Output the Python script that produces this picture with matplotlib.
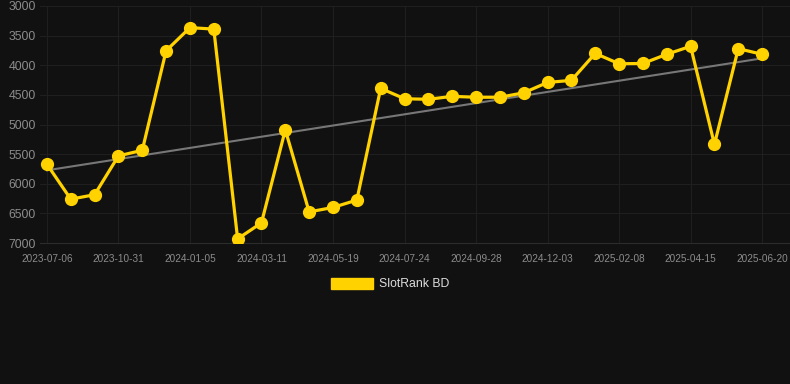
import numpy as np
import matplotlib
matplotlib.use('Agg')
import matplotlib.pyplot as plt
from matplotlib.patches import Patch

# rank values, one per observation (lower rank number is better, axis inverted)
rank = [5670, 6260, 6185, 5530, 5435, 3755, 3365, 3390, 6930, 6660,
        5090, 6475, 6400, 6275, 4390, 4565, 4575, 4525, 4540, 4540,
        4465, 4290, 4255, 3800, 3975, 3970, 3815, 3680, 5335, 3720,
        3815]
tick_labels = ['2023-07-06', '2023-10-31', '2024-01-05', '2024-03-11',
               '2024-05-19', '2024-07-24', '2024-09-28', '2024-12-03',
               '2025-02-08', '2025-04-15', '2025-06-20']
y_ticks = [3000, 3500, 4000, 4500, 5000, 5500, 6000, 6500, 7000]
series_name = 'SlotRank BD'

bg = '#111111'
yellow = '#ffd200'
W, H = 790, 384

plt.rcParams['font.family'] = ['Liberation Sans', 'DejaVu Sans']
fig = plt.figure(figsize=(W/100, H/100), dpi=100, facecolor=bg)
ax = fig.add_axes([40/W, (H-243)/H, 750/W, 237/H], facecolor=bg)

x = np.arange(len(rank))
# trend line (least squares)
k, b = np.polyfit(x, rank, 1)
ax.plot(x, k*x + b, color='#777777', lw=1.5, zorder=2)

ax.plot(x, rank, color=yellow, lw=2.3, marker='o', ms=8.5,
        markerfacecolor=yellow, markeredgecolor=yellow, zorder=3)

ax.set_xlim(-0.29, 31.17)
ax.set_ylim(7000, 3000)
ax.set_yticks(y_ticks)
ax.set_xticks(x[::3])
ax.set_xticklabels(tick_labels)

for s in ['top', 'right', 'left']:
    ax.spines[s].set_visible(False)
ax.spines['bottom'].set_color('#2c2c2c')
ax.grid(True, color='#1f1f1f', lw=0.8)
ax.set_axisbelow(True)
ax.tick_params(axis='y', length=0, pad=3, labelsize=8.8, labelcolor='#8c8c8c')
ax.tick_params(axis='x', length=0, pad=8, labelsize=7.2, labelcolor='#8c8c8c')

leg = fig.legend(handles=[Patch(facecolor=yellow, edgecolor=yellow)],
                 labels=[series_name], loc='center',
                 bbox_to_anchor=(390/W, (H-284)/H), frameon=False,
                 handlelength=3.4, handleheight=1.0, handletextpad=0.5,
                 prop={'size': 8.8})
for t in leg.get_texts():
    t.set_color('#dddddd')

fig.savefig('out.png', dpi=100, facecolor=bg)
